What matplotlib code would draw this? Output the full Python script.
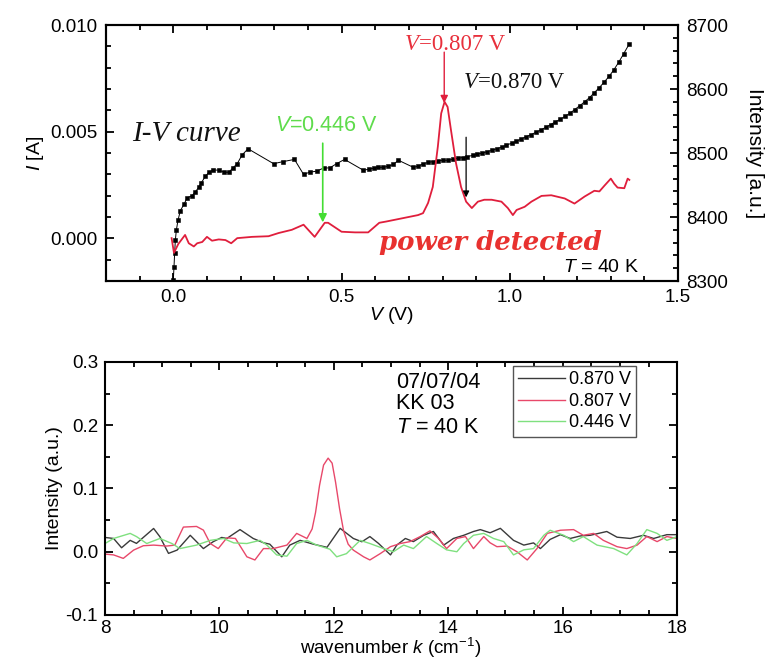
import matplotlib
matplotlib.use('Agg')
import matplotlib.pyplot as plt
from matplotlib.ticker import MultipleLocator, FormatStrFormatter

plt.rcParams['font.family'] = ['Liberation Sans', 'DejaVu Sans']
plt.rcParams['mathtext.fontset'] = 'custom'
plt.rcParams['mathtext.rm'] = 'Liberation Sans'
plt.rcParams['mathtext.it'] = 'Liberation Sans:italic'
plt.rcParams['axes.unicode_minus'] = False

# ---------------- top panel data ----------------
iv_v = [-0.003, 0.000, 0.002, 0.004, 0.006, 0.009, 0.014, 0.021, 0.032, 0.041,
        0.056, 0.065, 0.076, 0.083, 0.095, 0.106, 0.118, 0.136, 0.150, 0.165,
        0.177, 0.190, 0.204, 0.222, 0.298, 0.327, 0.360, 0.387, 0.405, 0.426,
        0.447, 0.465, 0.485, 0.509, 0.565, 0.580, 0.595, 0.609, 0.624, 0.639,
        0.654, 0.669, 0.713, 0.728, 0.743, 0.757, 0.772, 0.787, 0.801, 0.816,
        0.830, 0.845, 0.860, 0.874, 0.889, 0.903, 0.918, 0.932, 0.947, 0.961,
        0.976, 0.990, 1.005, 1.019, 1.034, 1.048, 1.063, 1.077, 1.092, 1.106,
        1.121, 1.135, 1.150, 1.164, 1.179, 1.193, 1.208, 1.222, 1.237, 1.251,
        1.266, 1.280, 1.295, 1.309, 1.324, 1.338, 1.355]
iv_i = [-0.0026, -0.00197, -0.00136, -0.0007, -0.0001, 0.00038, 0.00085, 0.0013, 0.0016, 0.0019,
        0.0020, 0.00217, 0.0024, 0.0026, 0.0029, 0.0031, 0.0032, 0.0032, 0.0031, 0.0031,
        0.0033, 0.0035, 0.0039, 0.0042, 0.0035, 0.0036, 0.0037, 0.0030, 0.0031, 0.00315,
        0.0033, 0.0033, 0.0035, 0.0037, 0.00319, 0.00324, 0.00329, 0.00333, 0.00333, 0.00338,
        0.00347, 0.00366, 0.00333, 0.00338, 0.00350, 0.00356, 0.00360, 0.00364, 0.00366, 0.00366,
        0.00370, 0.00375, 0.00379, 0.00383, 0.00389, 0.00395, 0.00400, 0.00406, 0.00413, 0.00420,
        0.00428, 0.00437, 0.00446, 0.00455, 0.00466, 0.00476, 0.00486, 0.00497, 0.00508, 0.00520,
        0.00533, 0.00546, 0.00558, 0.00572, 0.00587, 0.00604, 0.00622, 0.00640, 0.00660, 0.00683,
        0.00707, 0.00732, 0.00760, 0.00790, 0.00827, 0.00865, 0.00912]

pw_v = [-0.005, 0.002, 0.015, 0.035, 0.046, 0.061, 0.071, 0.086, 0.100, 0.115,
        0.135, 0.155, 0.172, 0.190, 0.234, 0.283, 0.313, 0.352, 0.387, 0.420,
        0.450, 0.460, 0.500, 0.540, 0.579, 0.612, 0.633, 0.680, 0.727, 0.742,
        0.757, 0.771, 0.786, 0.796, 0.806, 0.815, 0.825, 0.840, 0.855, 0.870,
        0.887, 0.905, 0.924, 0.946, 0.975, 0.994, 1.009, 1.020, 1.044, 1.064,
        1.094, 1.123, 1.163, 1.192, 1.222, 1.251, 1.266, 1.281, 1.300, 1.310,
        1.320, 1.340, 1.350, 1.355]
pw_int = [8367, 8344, 8358, 8372, 8359, 8354, 8359, 8361, 8369, 8363,
          8365, 8364, 8359, 8367, 8369, 8370, 8375, 8380, 8388, 8369,
          8391, 8391, 8377, 8376, 8376, 8391, 8393, 8398, 8403, 8406,
          8422, 8447, 8510, 8562, 8580, 8572, 8536, 8484, 8447, 8424,
          8414, 8424, 8427, 8427, 8424, 8414, 8403, 8411, 8416, 8424,
          8433, 8434, 8429, 8421, 8432, 8441, 8440, 8449, 8460, 8452,
          8446, 8445, 8460, 8458]

# ---------------- bottom panel data ----------------
k_870 = [8.00, 8.15, 8.29, 8.44, 8.55, 8.85, 8.96, 9.11, 9.26, 9.49,
         9.72, 9.89, 10.04, 10.13, 10.36, 10.59, 10.77, 10.88, 11.09, 11.23,
         11.41, 11.64, 11.88, 12.11, 12.34, 12.49, 12.63, 12.78, 12.99, 13.10,
         13.25, 13.39, 13.57, 13.74, 13.92, 14.09, 14.27, 14.44, 14.56, 14.73,
         14.91, 15.14, 15.32, 15.49, 15.61, 15.78, 15.96, 16.13, 16.31, 16.48,
         16.77, 16.95, 17.18, 17.41, 17.59, 17.82, 18.00]
s_870 = [0.0226, 0.021, 0.0063, 0.018, 0.0132, 0.0368, 0.0237, -0.0026, 0.0026, 0.026,
         0.005, 0.0158, 0.0226, 0.021, 0.035, 0.021, 0.0142, 0.012, -0.008, 0.0105,
         0.018, 0.012, 0.007, 0.037, 0.021, 0.0158, 0.024, 0.0132, -0.005, 0.0105,
         0.021, 0.016, 0.026, 0.032, 0.0105, 0.021, 0.026, 0.032, 0.035, 0.030,
         0.037, 0.018, 0.0105, 0.014, 0.005, 0.0195, 0.027, 0.021, 0.025, 0.026,
         0.032, 0.023, 0.021, 0.026, 0.021, 0.027, 0.027]

k_807 = [8.00, 8.15, 8.32, 8.50, 8.67, 8.85, 9.08, 9.22, 9.37, 9.60,
         9.72, 9.84, 9.98, 10.13, 10.28, 10.48, 10.62, 10.77, 10.94, 11.18,
         11.35, 11.53, 11.62, 11.68, 11.75, 11.82, 11.90, 11.97, 12.03, 12.10,
         12.17, 12.25, 12.34, 12.52, 12.63, 12.81, 12.99, 13.16, 13.33, 13.51,
         13.68, 13.83, 13.97, 14.15, 14.30, 14.44, 14.62, 14.73, 14.85, 15.03,
         15.20, 15.38, 15.55, 15.73, 15.96, 16.19, 16.36, 16.54, 16.71, 16.95,
         17.12, 17.30, 17.47, 17.65, 17.82, 18.00]
s_807 = [-0.0037, -0.005, -0.0105, 0.0026, 0.0095, 0.0105, 0.009, 0.0105, 0.039, 0.040,
         0.0342, 0.013, 0.005, 0.022, 0.021, -0.008, -0.013, 0.005, 0.005, 0.0105,
         0.029, 0.021, 0.036, 0.062, 0.105, 0.137, 0.148, 0.140, 0.110, 0.068,
         0.033, 0.012, 0.0026, -0.008, -0.013, -0.003, 0.008, 0.013, 0.016, 0.024,
         0.033, 0.021, 0.005, 0.021, 0.024, 0.005, 0.024, 0.0142, 0.008, 0.009,
         0.0, -0.013, 0.005, 0.029, 0.034, 0.035, 0.026, 0.029, 0.018, 0.008,
         0.005, 0.0105, 0.024, 0.016, 0.024, 0.021]

k_446 = [8.00, 8.15, 8.44, 8.55, 8.73, 8.96, 9.17, 9.31, 9.60, 9.84,
         10.07, 10.25, 10.48, 10.71, 10.83, 11.00, 11.18, 11.35, 11.53, 11.70,
         11.93, 12.05, 12.22, 12.46, 12.63, 12.87, 13.04, 13.22, 13.39, 13.62,
         13.80, 13.97, 14.15, 14.27, 14.44, 14.62, 14.79, 14.97, 15.14, 15.32,
         15.49, 15.67, 15.78, 16.02, 16.19, 16.36, 16.60, 16.89, 17.12, 17.30,
         17.47, 17.65, 17.82, 18.00]
s_446 = [0.013, 0.021, 0.029, 0.024, 0.013, 0.021, 0.013, 0.005, 0.0105, 0.018,
         0.021, 0.014, 0.013, 0.018, 0.0105, -0.005, -0.007, 0.013, 0.018, 0.0105,
         0.004, -0.008, -0.003, 0.018, 0.013, 0.005, 0.0, 0.0105, 0.005, 0.024,
         0.013, 0.003, 0.0, 0.013, 0.026, 0.029, 0.021, 0.016, -0.005, 0.003,
         0.005, 0.026, 0.034, 0.026, 0.016, 0.024, 0.0105, 0.005, -0.005, 0.013,
         0.035, 0.029, 0.018, 0.024]

legend_labels = ['0.870 V', '0.807 V', '0.446 V']

RED = '#e01e3c'
GREEN = '#5fdc4c'

fig = plt.figure(figsize=(7.68, 6.62), dpi=100)

# ================= top panel =================
ax1 = fig.add_axes([0.138, 0.5755, 0.745, 0.3867])
ax2 = ax1.twinx()
ax1.plot(iv_v, iv_i, color='black', lw=0.7, marker='s', ms=2.5, mew=0.4,
         mec='black', mfc='black')
ax2.plot(pw_v, pw_int, color=RED, lw=1.3)

ax1.set_xlim(-0.2, 1.5)
ax1.set_ylim(-0.002, 0.010)
ax2.set_ylim(8300, 8700)
ax1.xaxis.set_major_locator(MultipleLocator(0.5))
ax1.xaxis.set_minor_locator(MultipleLocator(0.1))
ax1.yaxis.set_major_locator(MultipleLocator(0.005))
ax1.yaxis.set_minor_locator(MultipleLocator(0.001))
ax2.yaxis.set_major_locator(MultipleLocator(100))
ax2.yaxis.set_minor_locator(MultipleLocator(20))
ax1.xaxis.set_major_formatter(FormatStrFormatter('%.1f'))
ax1.yaxis.set_major_formatter(FormatStrFormatter('%.3f'))

for a in (ax1, ax2, ):
    for s in a.spines.values():
        s.set_linewidth(1.5)
ax1.tick_params(which='both', direction='in', top=True, right=False, width=1.3, labelsize=13.5)
ax1.tick_params(which='major', length=6, pad=6)
ax1.tick_params(which='minor', length=3.5)
ax2.tick_params(which='both', direction='in', width=1.3, labelsize=13.5)
ax2.tick_params(which='major', length=6, pad=6)
ax2.tick_params(which='minor', length=3.5)

ax1.set_xlabel(r'$\mathit{V}$ (V)', fontsize=14, labelpad=-1)
ax1.set_ylabel(r'$\mathit{I}$ [A]', fontsize=14, labelpad=3)
ax2.set_ylabel('Intensity [a.u.]', fontsize=15, rotation=270, va='bottom', labelpad=12)

T1 = ax1.transData
ax2.text(-0.123, 0.00455, 'I-V curve', transform=T1, fontfamily='Liberation Serif',
         style='italic', fontsize=21, ha='left', va='baseline', color='#111111')
ax2.text(0.456, 0.0053, r'$\mathit{V}$=0.446 V', transform=T1, fontsize=15.5,
         color=GREEN, ha='center', va='center')
ax2.annotate('', xy=(0.444, 0.00075), xytext=(0.444, 0.00446), xycoords=T1, textcoords=T1,
             arrowprops=dict(arrowstyle='-|>', color='#44dd33', lw=1.2, mutation_scale=12,
                             shrinkA=0, shrinkB=0))

t_red = ax2.text(0.689, 0.00883, 'V', transform=T1, fontfamily='Liberation Serif',
                 style='italic', fontsize=16.5, color='#e8303c', ha='left', va='baseline')
ax2.annotate('=0.807 V', xy=(1, 0), xycoords=t_red, fontfamily='Liberation Serif',
             fontsize=16.5, color='#e8303c', ha='left', va='bottom')
ax2.annotate('', xy=(0.805, 0.00634), xytext=(0.805, 0.00873), xycoords=T1, textcoords=T1,
             arrowprops=dict(arrowstyle='-|>', color=RED, lw=1.0, mutation_scale=11,
                             shrinkA=0, shrinkB=0))

t_blk = ax2.text(0.864, 0.00704, 'V', transform=T1, fontfamily='Liberation Serif',
                 style='italic', fontsize=16.5, color='#111111', ha='left', va='baseline')
ax2.annotate('=0.870 V', xy=(1, 0), xycoords=t_blk, fontfamily='Liberation Serif',
             fontsize=16.5, color='#111111', ha='left', va='bottom')
ax2.annotate('', xy=(0.870, 0.00192), xytext=(0.870, 0.00474), xycoords=T1, textcoords=T1,
             arrowprops=dict(arrowstyle='-|>', color='black', lw=0.9, mutation_scale=9,
                             shrinkA=0, shrinkB=0))

ax2.text(0.612, -0.00056, 'power detected', transform=T1, fontfamily='DejaVu Serif',
         style='italic', fontweight='bold', fontsize=18.7, color='#e8312f',
         ha='left', va='baseline')
ax2.text(1.385, -0.0016, r'$\mathit{T}$ = 40 K', transform=T1, fontsize=14,
         ha='right', va='baseline')

# ================= bottom panel =================
ax3 = fig.add_axes([0.1367, 0.071, 0.745, 0.3822])
ax3.plot(k_870, s_870, color='#3a3a3a', lw=1.0, label=legend_labels[0])
ax3.plot(k_807, s_807, color='#e8486a', lw=1.0, label=legend_labels[1])
ax3.plot(k_446, s_446, color='#7fe07f', lw=1.0, label=legend_labels[2])
ax3.set_xlim(8, 18)
ax3.set_ylim(-0.1, 0.3)
ax3.xaxis.set_major_locator(MultipleLocator(2))
ax3.xaxis.set_minor_locator(MultipleLocator(0.5))
ax3.yaxis.set_major_locator(MultipleLocator(0.1))
ax3.yaxis.set_minor_locator(MultipleLocator(0.05))
ax3.yaxis.set_major_formatter(FormatStrFormatter('%.1f'))
for s in ax3.spines.values():
    s.set_linewidth(1.5)
ax3.tick_params(which='both', direction='in', top=True, right=True, width=1.3, labelsize=13.5)
ax3.tick_params(axis='y', which='major', length=6, pad=5)
ax3.tick_params(axis='x', which='major', length=6, pad=3.5)
ax3.tick_params(which='minor', length=3.5)
ax3.set_xlabel(r'wavenumber $\mathit{k}$ (cm$^{-1}$)', fontsize=13.5, labelpad=-0.5)
ax3.set_ylabel('Intensity (a.u.)', fontsize=14, labelpad=2)

ax3.text(13.09, 0.268, '07/07/04', fontsize=15.5, ha='left', va='center')
ax3.text(13.09, 0.235, 'KK 03', fontsize=15.5, ha='left', va='center')
ax3.text(13.09, 0.197, r'$\mathit{T}$ = 40 K', fontsize=15.5, ha='left', va='center')

leg = ax3.legend(loc='upper left', bbox_to_anchor=(0.713, 0.984), fontsize=13,
                 frameon=True, fancybox=False, edgecolor='#555555', framealpha=1,
                 handlelength=2.6, borderpad=0.3, labelspacing=0.25,
                 handletextpad=0.2, borderaxespad=0)
leg.get_frame().set_linewidth(1.0)

fig.savefig('out.png', dpi=100)
